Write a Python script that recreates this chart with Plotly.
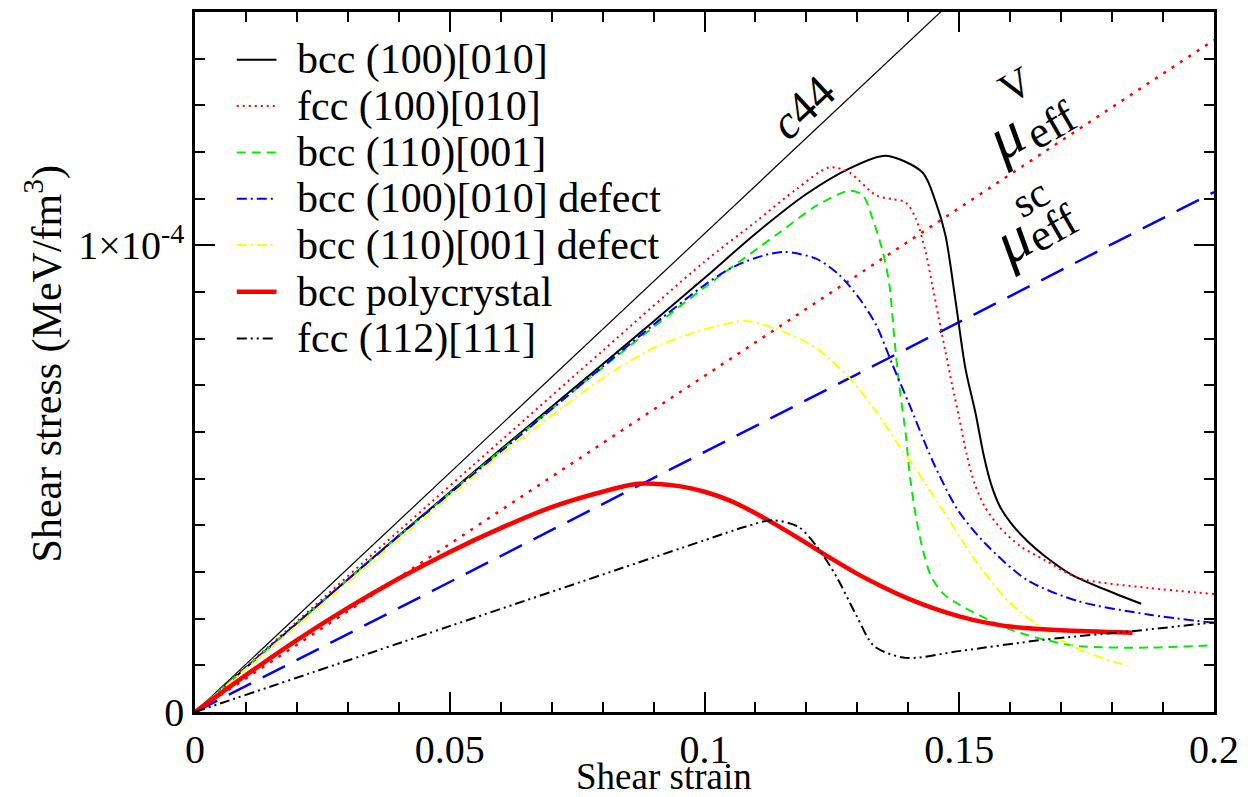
import numpy as np
import plotly.graph_objects as go

# Shear strain / shear stress curves (stress in units of 1e-4 MeV/fm^3)
STRESS_UNIT = 1e-4

strain_bcc100 = [0, 0.02, 0.04, 0.06, 0.08, 0.10, 0.11, 0.12, 0.1285, 0.1356, 0.1428,
                 0.1454, 0.1473, 0.1493, 0.1512, 0.1532, 0.1548, 0.1562, 0.158, 0.1605,
                 0.1635, 0.1667, 0.1721, 0.1803, 0.1857]
stress_bcc100 = [0, 0.19, 0.378, 0.563, 0.745, 0.93, 1.025, 1.11, 1.165, 1.192, 1.156,
                 1.092, 1.021, 0.879, 0.737, 0.64, 0.55, 0.49, 0.44, 0.40,
                 0.365, 0.335, 0.294, 0.255, 0.232]

strain_fcc100 = [0, 0.02, 0.04, 0.06, 0.08, 0.10, 0.11, 0.118, 0.1245, 0.1284, 0.1337,
                 0.1369, 0.1395, 0.1415, 0.1434, 0.1447, 0.146, 0.1473, 0.1486, 0.15,
                 0.1515, 0.153, 0.155, 0.158, 0.162, 0.1667, 0.1735, 0.1871, 0.2]
stress_fcc100 = [0, 0.194, 0.388, 0.581, 0.774, 0.965, 1.05, 1.12, 1.167, 1.156, 1.107,
                 1.099, 1.092, 1.057, 0.986, 0.915, 0.843, 0.772, 0.701, 0.63,
                 0.55, 0.49, 0.44, 0.395, 0.355, 0.326, 0.287, 0.266, 0.253]

strain_bcc110 = [0, 0.02, 0.04, 0.06, 0.08, 0.10, 0.11, 0.1148, 0.122, 0.1285, 0.1311,
                 0.133, 0.135, 0.1363, 0.1372, 0.1382, 0.1395, 0.1402, 0.1415, 0.1428,
                 0.1445, 0.147, 0.15, 0.1531, 0.1599, 0.1667, 0.1735, 0.1871, 0.2]
stress_bcc110 = [0, 0.19, 0.377, 0.56, 0.738, 0.91, 0.99, 1.028, 1.085, 1.117, 1.107,
                 1.057, 0.986, 0.915, 0.808, 0.701, 0.595, 0.516, 0.418, 0.35,
                 0.29, 0.252, 0.23, 0.212, 0.177, 0.155, 0.141, 0.138, 0.143]

strain_bcc100_defect = [0, 0.02, 0.04, 0.06, 0.08, 0.09, 0.10, 0.105, 0.11, 0.1155, 0.122,
                        0.1265, 0.1304, 0.1337, 0.1369, 0.1402, 0.1434, 0.1454, 0.1497,
                        0.1551, 0.1633, 0.1735, 0.1871, 0.2]
stress_bcc100_defect = [0, 0.19, 0.377, 0.558, 0.74, 0.83, 0.915, 0.95, 0.973, 0.986, 0.971,
                        0.936, 0.886, 0.829, 0.744, 0.659, 0.573, 0.523, 0.433,
                        0.361, 0.283, 0.237, 0.209, 0.191]

strain_bcc110_defect = [0, 0.02, 0.04, 0.06, 0.07, 0.08, 0.09, 0.10, 0.1083, 0.1155, 0.122,
                        0.1285, 0.1337, 0.1376, 0.1408, 0.1463, 0.1531, 0.1599, 0.1667,
                        0.1735, 0.183]
stress_bcc110_defect = [0, 0.185, 0.37, 0.552, 0.635, 0.715, 0.78, 0.82, 0.838, 0.815, 0.779,
                        0.715, 0.644, 0.58, 0.531, 0.44, 0.326, 0.234, 0.177,
                        0.134, 0.099]

strain_poly = [0, 0.01, 0.02, 0.03, 0.04, 0.05, 0.06, 0.07, 0.08, 0.087, 0.095, 0.10,
               0.105, 0.11, 0.115, 0.12, 0.125, 0.13, 0.135, 0.14, 0.145, 0.15, 0.155,
               0.16, 0.17, 0.184]
stress_poly = [0, 0.079, 0.154, 0.223, 0.286, 0.343, 0.394, 0.439, 0.472, 0.489, 0.484,
               0.472, 0.453, 0.426, 0.395, 0.362, 0.328, 0.296, 0.268, 0.243, 0.222,
               0.205, 0.192, 0.183, 0.175, 0.170]

strain_fcc112 = [0, 0.05, 0.10, 0.108, 0.1133, 0.1184, 0.1221, 0.1259, 0.1299, 0.1333,
                 0.1395, 0.1503, 0.1667, 0.1837, 0.2]
stress_fcc112 = [0, 0.184, 0.368, 0.397, 0.411, 0.397, 0.354, 0.29, 0.205, 0.141,
                 0.116, 0.131, 0.155, 0.173, 0.192]

# Linear reference moduli
ref_strain = [0, 0.2]
c44_stress = [0, 2.05]
muV_stress = [0, 1.44]
musc_stress = [0, 1.114]

SERIF = "Liberation Serif"

curves = [
    ("bcc (100)[010]", strain_bcc100, stress_bcc100, "#000000", "solid", 2),
    ("fcc (100)[010]", strain_fcc100, stress_fcc100, "#ff0000", "2px,4px", 2),
    ("bcc (110)[001]", strain_bcc110, stress_bcc110, "#00ee00", "9px,6px", 2),
    ("bcc (100)[010] defect", strain_bcc100_defect, stress_bcc100_defect, "#0000ff",
     "10px,4px,2px,4px", 2),
    ("bcc (110)[001] defect", strain_bcc110_defect, stress_bcc110_defect, "#ffff00",
     "10px,4px,2px,4px", 2),
    ("bcc polycrystal", strain_poly, stress_poly, "#ff0000", "solid", 4.5),
    ("fcc (112)[111]", strain_fcc112, stress_fcc112, "#000000",
     "10px,4px,2px,4px,2px,4px", 2),
]

fig = go.Figure()

# Reference straight lines
fig.add_trace(go.Scatter(x=ref_strain, y=np.array(c44_stress) * STRESS_UNIT, mode="lines",
                         line=dict(color="black", width=1.2), showlegend=False))
fig.add_trace(go.Scatter(x=ref_strain, y=np.array(muV_stress) * STRESS_UNIT, mode="lines",
                         line=dict(color="#ff0000", width=2.5, dash="3px,7px"),
                         showlegend=False))
fig.add_trace(go.Scatter(x=ref_strain, y=np.array(musc_stress) * STRESS_UNIT, mode="lines",
                         line=dict(color="#0000ff", width=2.5, dash="25px,13px"),
                         showlegend=False))

for name, xs, ys, color, dash, width in curves:
    fig.add_trace(go.Scatter(x=xs, y=np.array(ys) * STRESS_UNIT, mode="lines", name=name,
                             line=dict(color=color, width=width, dash=dash,
                                       shape="spline", smoothing=0.8),
                             showlegend=False))

# Plot-area geometry in pixels
L, R, T, B = 195, 1220, 9, 712
W, H = 1248, 797


def px(xp):
    return (xp - L) / (R - L)


def py(yp):
    return (B - yp) / (B - T)


def label(xp, yp, text, size, angle=0, anchor="center"):
    return dict(xref="paper", yref="paper", x=px(xp), y=py(yp), text=text,
                showarrow=False, textangle=angle, xanchor=anchor, yanchor="middle",
                font=dict(family=SERIF, size=size, color="black"))


# Legend drawn as line samples + text
legend_rows = [57, 103.5, 150, 196.5, 243, 290, 337]
shapes = []
annotations = []
for (name, xs, ys, color, dash, width), yrow in zip(curves, legend_rows):
    shapes.append(dict(type="line", xref="paper", yref="paper",
                       x0=px(237), x1=px(277), y0=py(yrow), y1=py(yrow),
                       line=dict(color=color, width=width, dash=dash)))
    annotations.append(label(296, yrow, name, 42, anchor="left"))

# Labels on the reference lines: c44, Voigt and self-consistent effective moduli
annotations += [
    label(806, 104, "<i>c</i>44", 47, angle=-43),
    label(1010, 134, "<i>μ</i>", 62, angle=-30),
    label(1056, 122, "eff", 45, angle=-30),
    label(1020, 82, "V", 42, angle=-30),
    label(1017, 238, "<i>μ</i>", 62, angle=-30),
    label(1058, 226, "eff", 45, angle=-30),
    label(1035, 196, "sc", 42, angle=-30),
]

# Axis titles
annotations += [
    label(667, 777, "Shear strain", 37),
    label(44, 362, "Shear stress (MeV/fm<sup>3</sup>)", 42, angle=-90),
]

axis_common = dict(showgrid=False, zeroline=False, showline=True, linecolor="black",
                   linewidth=2.5, mirror="ticks", ticks="inside", ticklen=20,
                   tickwidth=2, tickcolor="black",
                   tickfont=dict(family=SERIF, size=40, color="black"))

fig.update_layout(
    width=W, height=H,
    margin=dict(l=L, r=W - R, t=T, b=H - B),
    paper_bgcolor="white", plot_bgcolor="white",
    showlegend=False,
    shapes=shapes, annotations=annotations,
    xaxis=dict(range=[0, 0.2], tickmode="array",
               tickvals=[0, 0.05, 0.1, 0.15, 0.2],
               ticktext=["0", "0.05", "0.1", "0.15", "0.2"],
               minor=dict(tickmode="linear", tick0=0, dtick=0.01, ticks="inside",
                          ticklen=10, tickwidth=2, tickcolor="black", showgrid=False),
               **axis_common),
    yaxis=dict(range=[0, 1.5e-4], tickmode="array", tickvals=[0, 1e-4],
               ticktext=["0", "1×10<sup>-4</sup>"],
               minor=dict(tickmode="linear", tick0=0, dtick=1e-5, ticks="inside",
                          ticklen=10, tickwidth=2, tickcolor="black", showgrid=False),
               **axis_common),
)

fig.write_html("out.html")
